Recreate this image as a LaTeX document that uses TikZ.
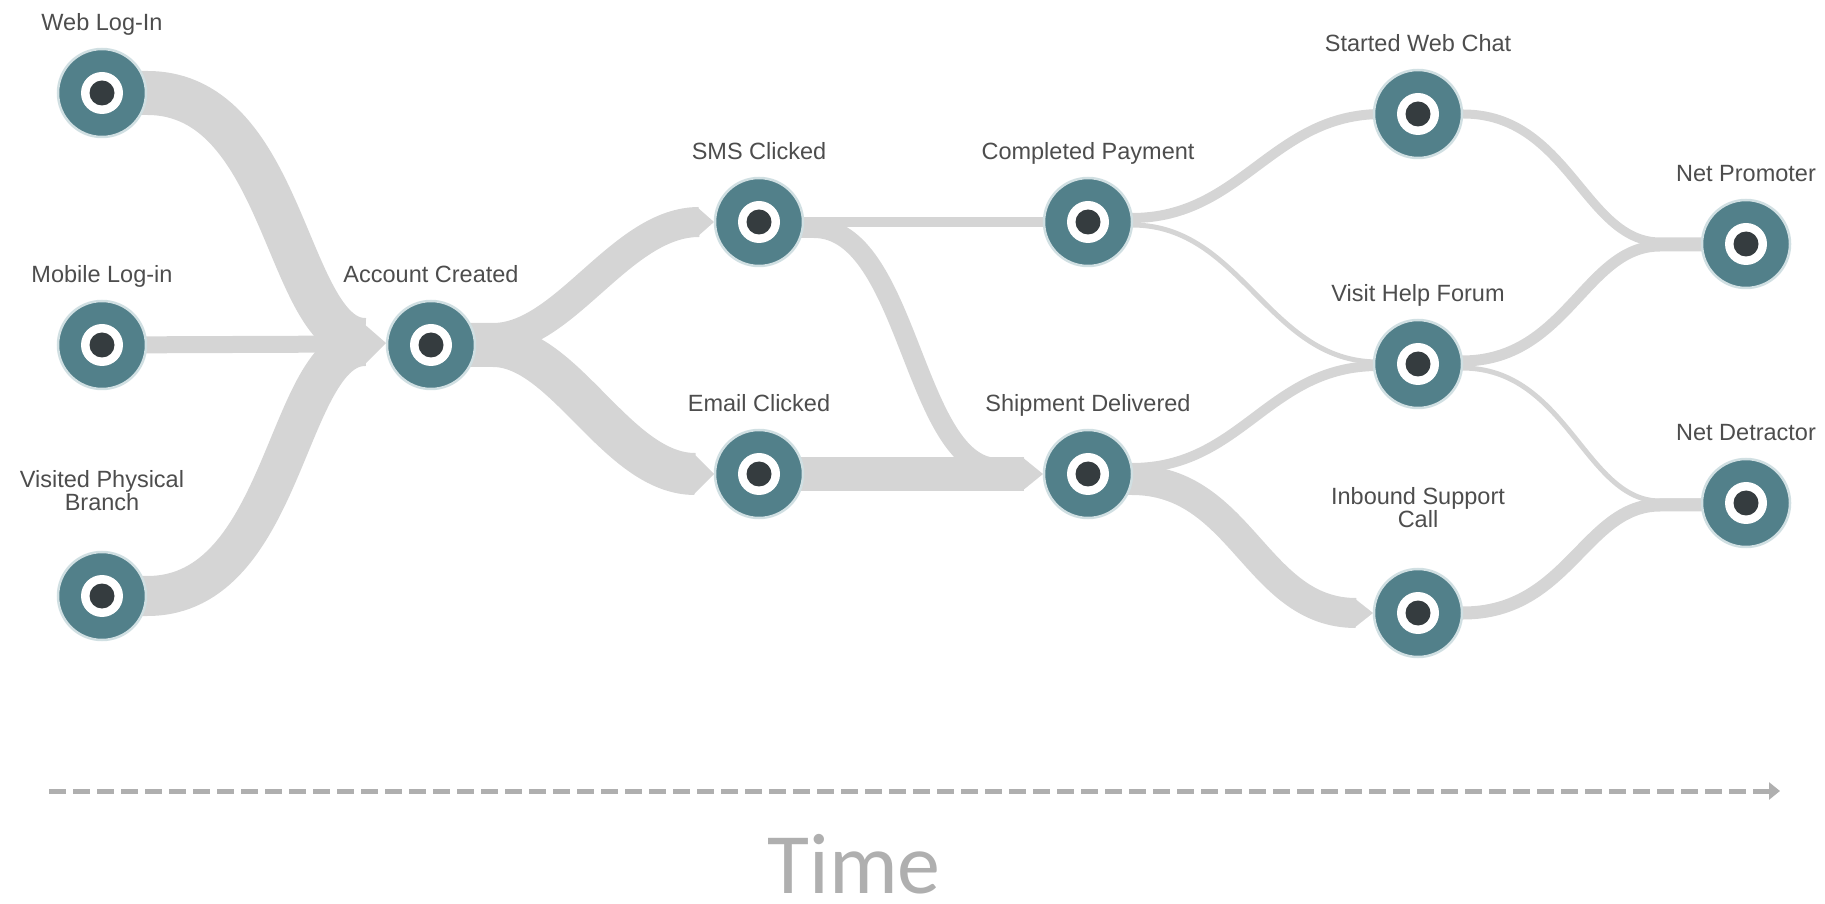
\documentclass[tikz,border=0pt]{standalone}
\usepackage{fontspec}
\setmainfont{Liberation Sans}
\newfontfamily\timefont{Carlito}
\usetikzlibrary{calc,backgrounds,arrows.meta}

\definecolor{stagefill}{HTML}{52808A}
\definecolor{stagecore}{HTML}{353C3F}
\definecolor{stagerim}{HTML}{D0DFE2}
\definecolor{flowgray}{HTML}{D5D5D5}
\definecolor{labelgray}{HTML}{4D4D4D}
\definecolor{axisgray}{HTML}{AFAFAF}

\tikzset{
  stage/.style={circle, fill=stagefill, draw=stagerim, line width=2.5pt,
    minimum size=88pt, inner sep=0pt,
    path picture={
      \fill[white] (path picture bounding box.center) circle (21pt);
      \fill[stagecore] (path picture bounding box.center) circle (12.5pt);
    }},
  lbl/.style={font=\fontsize{23.5}{23}\selectfont, text=labelgray,
    align=center, anchor=base, inner sep=0pt},
  flow/.style={draw=flowgray, line width=#1pt, line cap=butt},
  chevron/.style={fill=flowgray},
  timeline/.style={draw=axisgray, line width=5pt, dash pattern=on 17pt off 7pt,
    -{Triangle[length=11pt,width=17pt]}},
}

\begin{document}
\begin{tikzpicture}[x=1pt,y=1pt]
\useasboundingbox (0,0) rectangle (1825,903);

% stages
\node[stage] (web)   at (102,810) {};
\node[stage] (mob)   at (102,558) {};
\node[stage] (vis)   at (102,307) {};
\node[stage] (acc)   at (431,558) {};
\node[stage] (sms)   at (759,681) {};
\node[stage] (eml)   at (759,429) {};
\node[stage] (pay)   at (1088,681) {};
\node[stage] (shp)   at (1088,429) {};
\node[stage] (chat)  at (1418,789) {};
\node[stage] (forum) at (1418,539) {};
\node[stage] (call)  at (1418,290) {};
\node[stage] (prom)  at (1746,659) {};
\node[stage] (detr)  at (1746,400) {};

% stage captions
\node[lbl] (web-l)   at ($(web)+(0,62)$)   {Web Log-In};
\node[lbl] (mob-l)   at ($(mob)+(0,62)$)   {Mobile Log-in};
\node[lbl] (vis-l)   at ($(vis)+(0,85)$)   {Visited Physical\\Branch};
\node[lbl] (acc-l)   at ($(acc)+(0,62)$)   {Account Created};
\node[lbl] (sms-l)   at ($(sms)+(0,62)$)   {SMS Clicked};
\node[lbl] (eml-l)   at ($(eml)+(0,62)$)   {Email Clicked};
\node[lbl] (pay-l)   at ($(pay)+(0,62)$)   {Completed Payment};
\node[lbl] (shp-l)   at ($(shp)+(0,62)$)   {Shipment Delivered};
\node[lbl] (chat-l)  at ($(chat)+(0,62)$)  {Started Web Chat};
\node[lbl] (forum-l) at ($(forum)+(0,62)$) {Visit Help Forum};
\node[lbl] (call-l)  at ($(call)+(0,85)$)  {Inbound Support\\Call};
\node[lbl] (prom-l)  at ($(prom)+(0,62)$)  {Net Promoter};
\node[lbl] (detr-l)  at ($(detr)+(0,62)$)  {Net Detractor};

% flows between stages, behind the stage markers
\begin{pgfonlayer}{background}
  % into Account Created
  \draw[flow=44] (web.center) -- (web.east) .. controls +(140,0) and +(-80,0) .. ($(acc)+(-66,5)$);
  \draw[flow=17] (mob.center) -- ($(acc)+(-66,1)$);
  \draw[flow=40] (vis.center) -- (vis.east) .. controls +(140,0) and +(-80,0) .. ($(acc)+(-66,-1)$);
  \fill[chevron] ($(acc)+(-68,22)$) -- ($(acc)+(-45,2)$) -- ($(acc)+(-68,-21)$) -- cycle;

  % out of Account Created
  \draw[flow=30] ($(acc)+(0,7)$) -- ($(acc)+(62,7)$) .. controls +(72,0) and +(-78,0) .. ($(sms)+(-60,0)$);
  \draw[flow=42] ($(acc)+(0,-1)$) -- ($(acc)+(62,-1)$) .. controls +(72,0) and +(-78,0) .. ($(eml)+(-64,0)$);
  \fill[chevron] ($(sms)+(-62,15)$) -- ($(sms)+(-45,0)$) -- ($(sms)+(-62,-15)$) -- cycle;
  \fill[chevron] ($(eml)+(-66,21)$) -- ($(eml)+(-45,0)$) -- ($(eml)+(-66,-21)$) -- cycle;

  % out of SMS / Email
  \draw[flow=10] (sms.center) -- (pay.center);
  \draw[flow=20] ($(sms)+(0,-6)$) -- ($(sms)+(55,-6)$) .. controls +(95,0) and +(-85,0) .. ($(shp)+(-90,6)$) -- ($(shp)+(-64,6)$);
  \draw[flow=34] (eml.center) -- ($(shp)+(-64,0)$);
  \fill[chevron] ($(shp)+(-66,17)$) -- ($(shp)+(-45,0)$) -- ($(shp)+(-66,-17)$) -- cycle;

  % out of Completed Payment / Shipment Delivered
  \draw[flow=10] ($(pay)+(0,4)$) -- ($(pay)+(44,4)$) .. controls +(110,0) and +(-110,0) .. ($(chat)+(-36,0)$);
  \draw[flow=5]  ($(pay)+(0,-3)$) -- ($(pay)+(44,-3)$) .. controls +(110,0) and +(-110,0) .. ($(forum)+(-40,2)$);
  \draw[flow=10] ($(shp)+(0,6)$) -- ($(shp)+(44,6)$) .. controls +(110,0) and +(-110,0) .. ($(forum)+(-40,-2)$);
  \draw[flow=30] ($(shp)+(0,-6)$) -- ($(shp)+(44,-6)$) .. controls +(110,0) and +(-100,0) .. ($(call)+(-62,0)$);
  \fill[chevron] ($(call)+(-64,15)$) -- ($(call)+(-45,0)$) -- ($(call)+(-64,-15)$) -- cycle;

  % into the outcomes
  \draw[flow=9]  (chat.center) -- (chat.east) .. controls +(105,0) and +(-75,0) .. ($(prom)+(-86,2)$) -- ($(prom)+(0,2)$);
  \draw[flow=11] ($(forum)+(0,3)$) -- ($(forum)+(44,3)$) .. controls +(105,0) and +(-75,0) .. ($(prom)+(-86,-2)$) -- ($(prom)+(0,-2)$);
  \draw[flow=5]  ($(forum)+(0,-4)$) -- ($(forum)+(44,-4)$) .. controls +(105,0) and +(-75,0) .. ($(detr)+(-86,2)$) -- ($(detr)+(0,2)$);
  \draw[flow=13] (call.center) -- (call.east) .. controls +(105,0) and +(-75,0) .. ($(detr)+(-86,-2)$) -- ($(detr)+(0,-2)$);
\end{pgfonlayer}

% time axis
\coordinate (t0) at (49,112);
\coordinate (t1) at (1780,112);
\draw[timeline] (t0) -- (t1);
\node[font=\timefont\fontsize{86}{90}\selectfont, text=axisgray, anchor=base, inner sep=0pt] (time) at (854,10) {Time};
\end{tikzpicture}
\end{document}
